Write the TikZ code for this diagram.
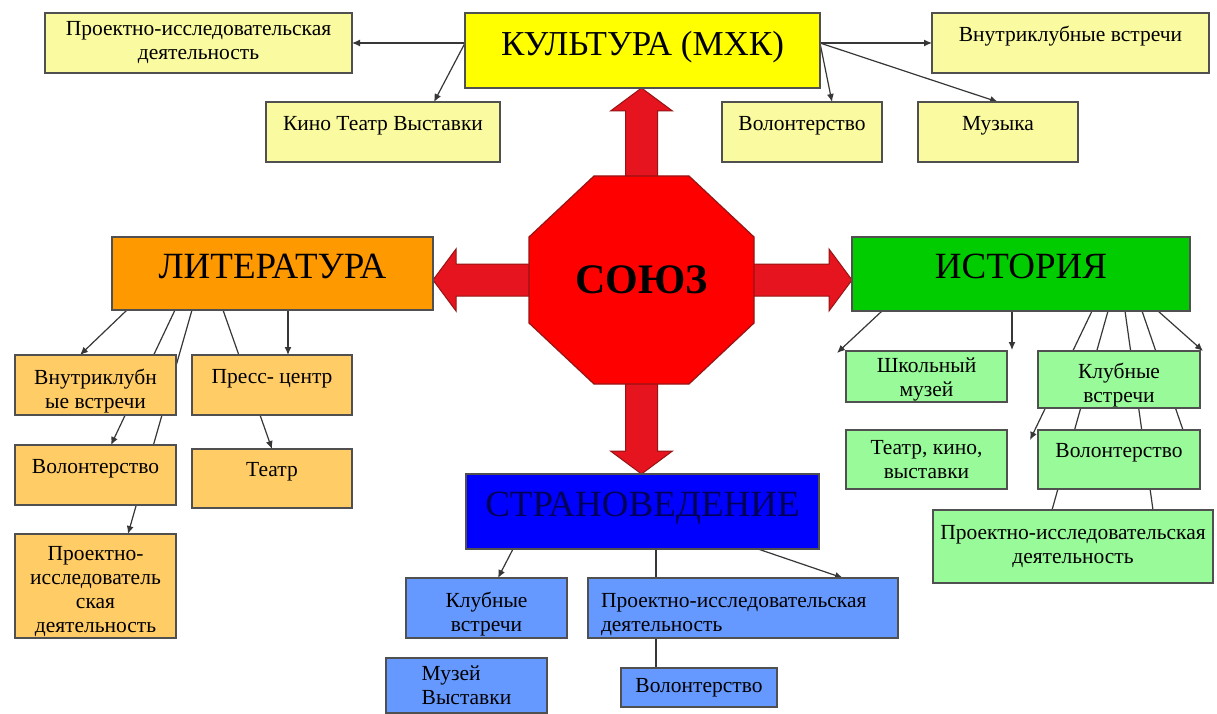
\documentclass[tikz,border=0pt]{standalone}
\usepackage{fontspec}
\setmainfont{Liberation Serif}
\usepackage{xcolor}
\usepackage{tikz}
\usetikzlibrary{positioning,calc,arrows.meta,backgrounds}
\definecolor{BoxLine}{RGB}{80,80,80}
\definecolor{LinkGray}{RGB}{55,55,55}
\definecolor{CultYellow}{RGB}{255,255,0}
\definecolor{CultLight}{RGB}{250,250,160}
\definecolor{LitOrange}{RGB}{255,153,0}
\definecolor{LitLight}{RGB}{255,204,102}
\definecolor{HistGreen}{RGB}{0,204,0}
\definecolor{HistLight}{RGB}{153,250,153}
\definecolor{StrBlue}{RGB}{0,0,255}
\definecolor{StrLight}{RGB}{102,153,255}
\definecolor{StrText}{RGB}{0,0,90}
\definecolor{UnionRed}{RGB}{255,0,0}
\definecolor{ArrowRed}{RGB}{230,20,30}
\definecolor{DarkRed}{RGB}{150,20,20}
% невидимая опора: опускает текст в блоке
\newcommand{\lifttext}[1]{\rule{0pt}{#1}}
\tikzset{
    topicnode/.style={rectangle, draw=BoxLine, line width=1.3pt, outer sep=0pt, inner sep=2pt, font=\fontsize{37}{40}\selectfont, text depth=15pt},
    itemnode/.style={rectangle, draw=BoxLine, line width=1.3pt, outer sep=0pt, inner sep=2pt, align=center, font=\fontsize{21.5}{24}\selectfont},
    link/.style={draw=LinkGray, line width=1.2pt},
    linkarrow/.style={link, -{Latex[length=8pt, width=7pt]}}
}

\begin{document}
\begin{tikzpicture}[x=1pt, y=-1pt,
    % Восьмиугольник в центре
    unionnode/.style={
        minimum width=225,
        minimum height=208,
        outer sep=0pt,
        inner sep=0pt,
        font=\fontsize{42}{44}\selectfont\bfseries
    },
    % Толстые красные стрелки
    fatarrow/.style={fill=ArrowRed, draw=DarkRed, line width=1pt, line join=miter},
    % Текст в верхней части блока
    uptext/.style={text depth=18pt},
    % Текст чуть ниже середины блока
    lowtext/.style={inner ysep=0pt}
]
    \useasboundingbox (0,0) rectangle (1217,714);

    % --- ЦЕНТР ---
    \node[unionnode] (union) at (641.5,280) {СОЮЗ};

    % --- КУЛЬТУРА ---
    \node[topicnode, fill=CultYellow, font=\fontsize{35}{38}\selectfont, minimum width=355, minimum height=75] (cult) at (642.5,50.5) {КУЛЬТУРА (МХК)};
    \node[itemnode, fill=CultLight, minimum width=307, minimum height=60] (cproj) at (198.5,43) {Проектно-исследовательская\\деятельность};
    \node[itemnode, uptext, fill=CultLight, minimum width=277, minimum height=60] (cclub) at (1070.5,43) {Внутриклубные встречи};
    \node[itemnode, uptext, fill=CultLight, minimum width=234, minimum height=60] (ccinema) at (383,132) {Кино Театр Выставки};
    \node[itemnode, uptext, fill=CultLight, minimum width=160, minimum height=60] (cvol) at (802,132) {Волонтерство};
    \node[itemnode, uptext, fill=CultLight, minimum width=160, minimum height=60] (cmusic) at (998,132) {Музыка};

    % --- ЛИТЕРАТУРА ---
    \node[topicnode, fill=LitOrange, minimum width=321, minimum height=73] (lit) at (272.5,273.5) {ЛИТЕРАТУРА};
    \node[itemnode, lowtext, fill=LitLight, minimum width=161, minimum height=60] (lvnutr) at (95.5,385) {\lifttext{28pt}Внутриклубн\\ые встречи};
    \node[itemnode, uptext, fill=LitLight, minimum width=160, minimum height=60] (lpress) at (272,385) {Пресс- центр};
    \node[itemnode, uptext, fill=LitLight, minimum width=161, minimum height=60] (lvol) at (95.5,475) {Волонтерство};
    \node[itemnode, uptext, fill=LitLight, minimum width=160, minimum height=59] (ltheatre) at (272,478.5) {Театр};
    \node[itemnode, lowtext, fill=LitLight, minimum width=161, minimum height=104] (lproj) at (95.5,586) {\lifttext{25pt}Проектно-\\исследователь\\ская\\деятельность};

    % --- ИСТОРИЯ ---
    \node[topicnode, fill=HistGreen, minimum width=338, minimum height=74] (hist) at (1021,274) {ИСТОРИЯ};
    \node[itemnode, lowtext, fill=HistLight, minimum width=161, minimum height=51] (hmuseum) at (926.5,376.5) {\lifttext{20pt}Школьный\\музей};
    \node[itemnode, lowtext, fill=HistLight, minimum width=162, minimum height=57] (hclub) at (1119,379.5) {\lifttext{27pt}Клубные\\встречи};
    \node[itemnode, fill=HistLight, minimum width=161, minimum height=59] (htheatre) at (926.5,459.5) {Театр, кино,\\выставки};
    \node[itemnode, uptext, fill=HistLight, minimum width=162, minimum height=59] (hvol) at (1119,459.5) {Волонтерство};
    \node[itemnode, fill=HistLight, minimum width=280, minimum height=73] (hproj) at (1073,546.5) {Проектно-исследовательская\\деятельность};

    % --- СТРАНОВЕДЕНИЕ ---
    \node[topicnode, fill=StrBlue, text=StrText, minimum width=353, minimum height=75] (stran) at (642.5,511.5) {СТРАНОВЕДЕНИЕ};
    \node[itemnode, lowtext, fill=StrLight, minimum width=161, minimum height=60] (sclub) at (486.5,608) {\lifttext{28pt}Клубные\\встречи};
    \node[itemnode, lowtext, fill=StrLight, align=left, text width=284, minimum width=310, minimum height=60] (sproj) at (743,608) {\lifttext{28pt}Проектно-исследовательская\\деятельность};
    \node[itemnode, fill=StrLight, align=left, minimum width=161, minimum height=55] (smuseum) at (466.5,685.5) {Музей\\Выставки};
    \node[itemnode, fill=StrLight, minimum width=156, minimum height=39] (svol) at (699,687.5) {Волонтерство};

    \begin{scope}[on background layer]
        \fill[white] (0,0) rectangle (1217,714);

        % --- СВЯЗИ ---
        % культура
        \draw[linkarrow] (cult.west |- cproj.east) -- (cproj.east);
        \draw[linkarrow] (cult.west |- cproj.east) -- ($(ccinema.north)+(51,0)$);
        \draw[linkarrow] (cult.east |- cclub.west) -- (cclub.west);
        \draw[linkarrow] (cult.east |- cclub.west) -- ($(cvol.north)+(30,0)$);
        \draw[linkarrow] (cult.east |- cclub.west) -- (cmusic.north);
        % литература
        \draw[linkarrow] ($(lit.south west)+(15,0)$) -- ($(lvnutr.north west)+(65,0)$);
        \draw[linkarrow] ($(lit.south west)+(63,0)$) -- ($(lvol.north west)+(96,0)$);
        \draw[linkarrow] ($(lit.south west)+(80,0)$) -- ($(lproj.north west)+(113,0)$);
        \draw[linkarrow] ($(lit.south west)+(111,0)$) -- ($(ltheatre.north west)+(80,0)$);
        \draw[linkarrow] ($(lit.south west)+(176,0)$) -- ($(lpress.north west)+(96,0)$);
        % история
        \draw[linkarrow] ($(hist.south west)+(30,0)$) -- ($(hmuseum.north west)+(-9,2)$);
        \draw[linkarrow] ($(hist.south west)+(160,0)$) -- ($(hmuseum.north east)+(5,-1)$);
        \draw[linkarrow] ($(hist.south west)+(240,0)$) -- ($(hvol.north west)+(-8,10)$);
        \draw[link] ($(hist.south west)+(256,0)$) -- ($(hproj.north west)+(119,0)$);
        \draw[link] ($(hist.south west)+(273,0)$) -- ($(hproj.north west)+(220,0)$);
        \draw[link] ($(hist.south west)+(290,0)$) -- ($(hvol.north west)+(145,0)$);
        \draw[linkarrow] ($(hist.south west)+(306,0)$) -- ($(hclub.north east)+(3,0)$);
        % страноведение
        \draw[linkarrow] ($(stran.south west)+(47,0)$) -- ($(sclub.north west)+(92,0)$);
        \draw[link] ($(stran.south west)+(190,0)$) -- ($(svol.north west)+(35,0)$);
        \draw[linkarrow] ($(stran.south west)+(292,0)$) -- ($(sproj.north west)+(255,0)$);

        % --- КРАСНЫЕ СТРЕЛКИ ---
        \foreach \tip/\ang in {cult.south -| union.center/0, lit.east |- union.center/90, stran.north -| union.center/180, hist.west |- union.center/270}
            \draw[fatarrow, shift={(\tip)}, rotate=\ang] (0,0) -- (31,23) -- (16,23) -- (16,110) -- (-16,110) -- (-16,23) -- (-31,23) -- cycle;

        % восьмиугольник
        \draw[fill=UnionRed, draw=DarkRed, line width=1.2pt]
            ($(union.north west)+(65,0)$) -- ($(union.north east)+(-65,0)$) --
            ($(union.north east)+(0,61)$) -- ($(union.south east)+(0,-61)$) --
            ($(union.south east)+(-65,0)$) -- ($(union.south west)+(65,0)$) --
            ($(union.south west)+(0,-61)$) -- ($(union.north west)+(0,61)$) -- cycle;
    \end{scope}

\end{tikzpicture}
\end{document}
